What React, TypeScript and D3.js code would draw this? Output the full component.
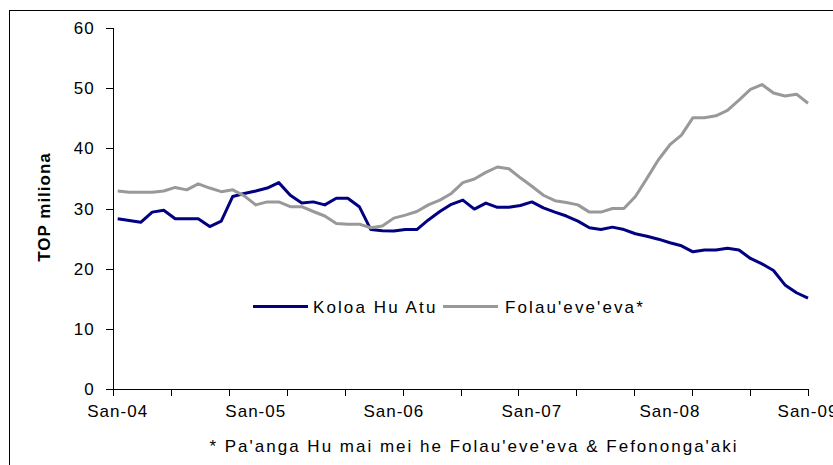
import React from 'react';
import * as d3 from 'd3';

// monthly values, San-04 .. San-09 (61 months)
const koloaHuAtu = [
  28.3, 28.0, 27.7, 29.4, 29.7, 28.3, 28.3, 28.3, 27.0, 27.9,
  32.0, 32.5, 32.9, 33.4, 34.3, 32.2, 30.9, 31.1, 30.6, 31.7,
  31.7, 30.3, 26.5, 26.3, 26.25, 26.5, 26.5, 28.1, 29.5, 30.7,
  31.4, 29.9, 30.9, 30.2, 30.2, 30.5, 31.1, 30.1, 29.4, 28.75,
  27.9, 26.8, 26.5, 26.9, 26.5, 25.8, 25.4, 24.9, 24.3, 23.8,
  22.8, 23.1, 23.1, 23.4, 23.1, 21.7, 20.8, 19.7, 17.3, 16.0, 15.1,
];
const folauEveEva = [
  32.9, 32.7, 32.7, 32.7, 32.9, 33.5, 33.1, 34.1, 33.4, 32.8,
  33.1, 32.1, 30.6, 31.1, 31.1, 30.3, 30.3, 29.5, 28.75, 27.5,
  27.4, 27.4, 26.8, 27.1, 28.4, 28.9, 29.5, 30.6, 31.4, 32.5,
  34.3, 34.9, 36.0, 36.9, 36.6, 35.1, 33.7, 32.2, 31.3, 31.0,
  30.6, 29.4, 29.4, 30.0, 30.0, 32.0, 35.0, 38.1, 40.6, 42.2,
  45.1, 45.1, 45.4, 46.3, 48.0, 49.8, 50.6, 49.2, 48.7, 49.0, 47.5,
];
const xLabels = ['San-04', 'San-05', 'San-06', 'San-07', 'San-08', 'San-09'];
const yTicks = [0, 10, 20, 30, 40, 50, 60];
const seriesNames = ['Koloa Hu Atu', "Folau'eve'eva*"];
const footnote = "* Pa'anga Hu mai mei he Folau'eve'eva & Fefononga'aki";

const W = 833;
const H = 465;
const font = '"Liberation Sans", Arial, sans-serif';
const BLUE = '#000080';
const GREY = '#999999';

export default function App() {
  const axisLeft = 113;
  const axisRight = 808;
  const x = d3.scaleLinear().domain([0, koloaHuAtu.length - 1]).range([117.7, axisRight]);
  const tickX = d3.scaleLinear().domain([0, 12]).range([axisLeft, axisRight]); // tick every 5 months
  const y = d3.scaleLinear().domain([0, 60]).range([389, 28]);

  const line = d3.line<number>()
    .x((_, i) => x(i))
    .y(d => y(d));

  return (
    <svg width={W} height={H} style={{ position: 'absolute', left: 0, top: 0 }} fontFamily={font}>
      <rect x={0} y={0} width={W} height={H} fill="#fff" />
      <rect x={9.5} y={10.5} width={W + 10} height={H + 10} fill="none" stroke="#000" strokeWidth={1} />

      {/* y axis */}
      <line x1={axisLeft + 0.5} x2={axisLeft + 0.5} y1={y(60)} y2={y(0)} stroke="#000" />
      {yTicks.map(t => (
        <g key={t}>
          <line x1={axisLeft - 7} x2={axisLeft} y1={Math.round(y(t)) + 0.5} y2={Math.round(y(t)) + 0.5} stroke="#000" />
          <text x={95} y={y(t) + 6} textAnchor="end" fontSize={17} letterSpacing={1.2}>{t}</text>
        </g>
      ))}

      {/* x axis */}
      <line x1={axisLeft} x2={axisRight} y1={y(0) + 0.5} y2={y(0) + 0.5} stroke="#000" />
      {d3.range(13).map(k => (
        <line key={k} x1={Math.round(tickX(k)) + 0.5} x2={Math.round(tickX(k)) + 0.5} y1={y(0)} y2={y(0) + 7} stroke="#000" />
      ))}
      {xLabels.map((lab, k) => (
        <text key={lab} x={x(k * 12)} y={417} textAnchor="middle" fontSize={17} letterSpacing={1}>{lab}</text>
      ))}

      <text transform={`translate(50,207) rotate(-90)`} textAnchor="middle" fontSize={17} fontWeight="bold" letterSpacing={1}>
        TOP miliona
      </text>

      {/* series */}
      <path d={line(koloaHuAtu) ?? ''} fill="none" stroke={BLUE} strokeWidth={3} strokeLinejoin="round" />
      <path d={line(folauEveEva) ?? ''} fill="none" stroke={GREY} strokeWidth={3} strokeLinejoin="round" />

      {/* legend */}
      <line x1={253} x2={308} y1={306.5} y2={306.5} stroke={BLUE} strokeWidth={3} />
      <text x={313} y={312.5} fontSize={17} letterSpacing={2.1}>{seriesNames[0]}</text>
      <line x1={443} x2={498} y1={306.5} y2={306.5} stroke={GREY} strokeWidth={3} />
      <text x={505} y={312.5} fontSize={17} letterSpacing={2.1}>{seriesNames[1]}</text>

      <text x={474} y={452} textAnchor="middle" fontSize={17} letterSpacing={2}>{footnote}</text>
    </svg>
  );
}
